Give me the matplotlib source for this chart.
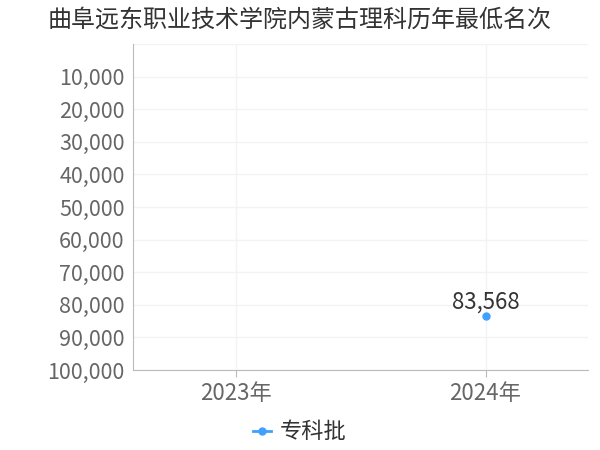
import matplotlib
matplotlib.use("Agg")
import matplotlib.pyplot as plt
from matplotlib.ticker import FuncFormatter

plt.rcParams['font.family'] = ['Noto Sans CJK SC', 'DejaVu Sans']

years = ["2023年", "2024年"]
series_name = "专科批"
ranks = [None, 83568]
yticks = [10000, 20000, 30000, 40000, 50000, 60000, 70000, 80000, 90000, 100000]

fig = plt.figure(figsize=(6, 4.5), dpi=100)
ax = fig.add_axes([133/600, 1-370/450, (588-133)/600, (370-44)/450])

xs = [i for i, v in enumerate(ranks) if v is not None]
vs = [v for v in ranks if v is not None]
ax.plot(xs, vs, color="#3fa0ff", marker="o", markersize=5, linewidth=2, label=series_name)
for x, v in zip(xs, vs):
    ax.annotate(f"{v:,}", (x, v), xytext=(0, 2), textcoords="offset points",
                ha="center", va="bottom", fontsize=16, color="#333333")

ax.set_xlim(-0.41, 1.41)
ax.set_ylim(100000, 0)
ax.set_xticks(range(len(years)))
ax.set_xticklabels(years)
ax.set_yticks(yticks)
ax.yaxis.set_major_formatter(FuncFormatter(lambda v, p: f"{int(v):,}"))

ax.grid(True, color="#f3f3f3", linewidth=1)
ax.axhline(0, color="#f3f3f3", linewidth=1)
ax.set_axisbelow(True)
for s in ["top", "right"]:
    ax.spines[s].set_visible(False)
ax.spines["left"].set_color("#bbbbbb")
ax.spines["bottom"].set_color("#bbbbbb")
ax.tick_params(axis="y", length=0, labelsize=15.5, labelcolor="#666666", pad=6)
ax.tick_params(axis="x", length=5, color="#bbbbbb", labelsize=16, labelcolor="#666666", pad=4)

fig.text(48/600, 1-20/450, "曲阜远东职业技术学院内蒙古理科历年最低名次",
         fontsize=17.3, color="#333333", ha="left", va="center")

fig.legend(loc="center", bbox_to_anchor=(0.5, 1-432/450), frameon=False,
           fontsize=16, handlelength=0.8, handletextpad=0.4, labelcolor="#333333")

fig.savefig("out.png", dpi=100)
